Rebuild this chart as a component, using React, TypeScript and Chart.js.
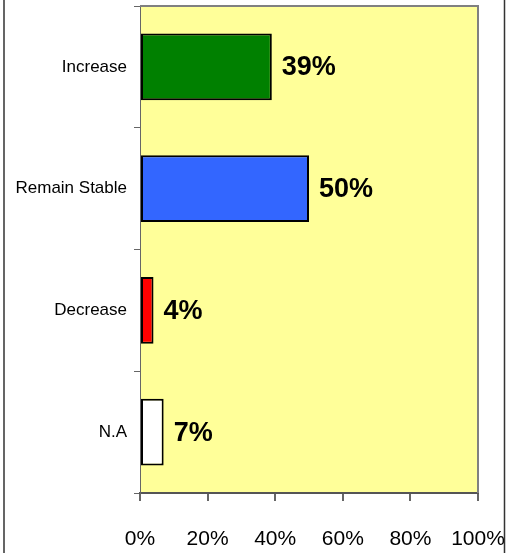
import React, { useEffect, useRef } from "react";
import { Chart, registerables } from "chart.js";

Chart.register(...registerables);

const categories = ["Increase", "Remain Stable", "Decrease", "N.A"];
const values = [39, 50, 4, 7];
const barColors = ["#008000", "#3366FF", "#FF0000", "#FFFFFF"];
const xTicks = [0, 20, 40, 60, 80, 100];

const decorPlugin = {
  id: "decor",
  beforeDraw(chart: any) {
    const { ctx, chartArea: a } = chart;
    ctx.save();
    ctx.fillStyle = "#FFFF99";
    ctx.fillRect(a.left, a.top, a.right - a.left, a.bottom - a.top);
    ctx.restore();
  },
  afterDraw(chart: any) {
    const { ctx, chartArea: a } = chart;
    ctx.save();
    ctx.strokeStyle = "#808080";
    ctx.lineWidth = 2;
    ctx.beginPath();
    ctx.moveTo(a.left, a.top);
    ctx.lineTo(a.right, a.top);
    ctx.lineTo(a.right, a.bottom);
    ctx.stroke();
    ctx.strokeStyle = "#333";
    ctx.lineWidth = 1.5;
    ctx.beginPath();
    ctx.moveTo(4, 0);
    ctx.lineTo(4, chart.height);
    ctx.moveTo(504.5, 0);
    ctx.lineTo(504.5, chart.height);
    ctx.stroke();
    const meta = chart.getDatasetMeta(0);
    ctx.fillStyle = "#000";
    ctx.font = "bold 27px 'Liberation Sans', Arial, sans-serif";
    ctx.textBaseline = "middle";
    ctx.textAlign = "left";
    meta.data.forEach((bar: any, i: number) => {
      ctx.fillText(values[i] + "%", bar.x + 10, bar.y + 1);
    });
    ctx.restore();
  },
};

export default function App() {
  const ref = useRef<HTMLCanvasElement>(null);
  useEffect(() => {
    document.body.style.margin = "0";
    const chart = new Chart(ref.current!, {
      type: "bar",
      data: {
        labels: categories,
        datasets: [
          {
            data: values,
            backgroundColor: barColors,
            borderColor: "#000",
            borderWidth: 2,
            borderSkipped: false,
            barPercentage: 0.55,
            categoryPercentage: 1,
          },
        ],
      },
      options: {
        indexAxis: "y",
        animation: false,
        responsive: false,
        maintainAspectRatio: false,
        layout: { padding: { top: 6, right: 29, left: 0, bottom: 0 } },
        plugins: { legend: { display: false }, tooltip: { enabled: false } },
        scales: {
          x: {
            min: 0,
            max: 100,
            afterBuildTicks: (s: any) => {
              s.ticks = xTicks.map((v) => ({ value: v }));
            },
            afterFit: (s: any) => {
              s.height = 60;
              s.paddingLeft = 0;
              s.paddingRight = 0;
            },
            ticks: {
              callback: (v: any) => v + "%",
              color: "#000",
              font: { family: "'Liberation Sans', Arial, sans-serif", size: 21 },
              padding: 26,
              maxRotation: 0,
            },
            grid: { drawOnChartArea: false, tickLength: 8, color: "#666", lineWidth: 2 },
            border: { color: "#555", width: 2 },
          },
          y: {
            afterFit: (s: any) => {
              s.width = 140;
              s.paddingTop = 0;
              s.paddingBottom = 0;
            },
            ticks: {
              color: "#000",
              font: { family: "'Liberation Sans', Arial, sans-serif", size: 17 },
              padding: 7,
            },
            grid: { offset: true, drawOnChartArea: false, tickLength: 6, color: "#666", lineWidth: 1 },
            border: { color: "#666", width: 1 },
          },
        },
      },
      plugins: [decorPlugin],
    } as any);
    return () => chart.destroy();
  }, []);
  return <canvas ref={ref} width={507} height={553} style={{ display: "block" }} />;
}
